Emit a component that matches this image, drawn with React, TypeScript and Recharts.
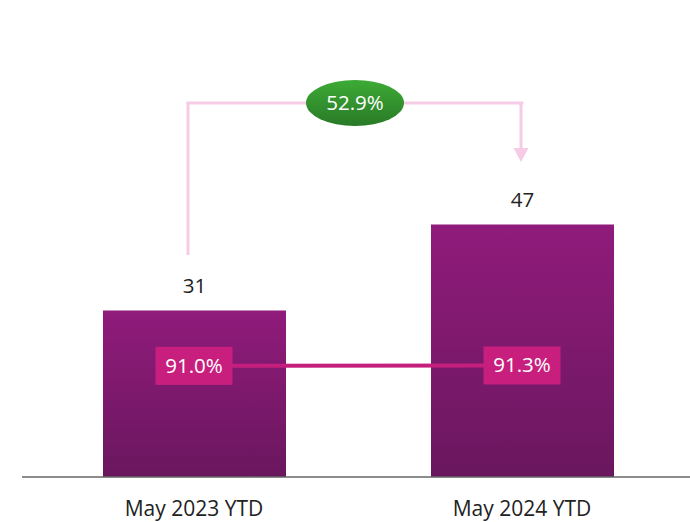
import React from "react"
import { Bar, ComposedChart, LabelList, Line, ReferenceLine, XAxis, YAxis } from "recharts"

const periods = ["May 2023 YTD", "May 2024 YTD"]
const counts = [31, 47]
const rates = [91.0, 91.3]
const growthLabel = "52.9%"

const data = periods.map((name, i) => ({ name, count: counts[i], rate: rates[i] }))

const FONT = "'Open Sans', sans-serif"
const CONNECTOR = "#f5cbe5"
const SHIFT = -6 // the connector starts a little left of the first bar's centre

const RateBadge = (props: any) => {
  const { x, y, value } = props
  const w = 77
  const h = 38
  return (
    <g>
      <rect x={x - w / 2} y={y - h / 2} width={w} height={h} fill="#c81f7e" />
      <text x={x} y={y} dy={7} textAnchor="middle" fill="#fff" fontSize={20.5} fontFamily={FONT}>
        {`${Number(value).toFixed(1)}%`}
      </text>
    </g>
  )
}

const LeftRise = (props: any) => {
  const vb = props.viewBox || {}
  const x = vb.x + SHIFT
  return <line x1={x} y1={vb.y} x2={x} y2={vb.y + (vb.height || 0)} stroke={CONNECTOR} strokeWidth={3} />
}

const GrowthBubble = (props: any) => {
  const vb = props.viewBox || {}
  const x0 = vb.x + SHIFT - 1.5
  const x1 = vb.x + (vb.width || 0) + 1.5
  const cx = (x0 + x1) / 2
  const cy = vb.y + (vb.height || 0) / 2
  return (
    <g>
      <line x1={x0} y1={cy} x2={x1} y2={cy} stroke={CONNECTOR} strokeWidth={3} />
      <ellipse cx={cx} cy={cy} rx={49} ry={23} fill="url(#greenFill)" />
      <text x={cx} y={cy} dy={7} textAnchor="middle" fill="#fff" fontSize={20.5} fontFamily={FONT}>
        {growthLabel}
      </text>
    </g>
  )
}

const ArrowHead = (props: any) => {
  const vb = props.viewBox || {}
  const tipX = vb.x - 1
  const tipY = vb.y + (vb.height || 0)
  return (
    <g>
      <line x1={tipX} y1={vb.y} x2={tipX} y2={tipY - 12} stroke={CONNECTOR} strokeWidth={3} />
      <path d={`M${tipX - 7.5},${tipY - 14} L${tipX + 7.5},${tipY - 14} L${tipX},${tipY} Z`} fill={CONNECTOR} />
    </g>
  )
}

export default function App() {
  return (
    <div style={{ position: "absolute", left: 0, top: 0, fontFamily: FONT }}>
      <ComposedChart width={690} height={522} data={data} margin={{ top: 47, right: 0, left: 22, bottom: 0 }}>
        <defs>
          <linearGradient id="barFill" x1="0" y1="0" x2="0" y2="1">
            <stop offset="0%" stopColor="#901b7b" />
            <stop offset="100%" stopColor="#6a175e" />
          </linearGradient>
          <linearGradient id="greenFill" x1="0" y1="0" x2="0" y2="1">
            <stop offset="0%" stopColor="#3dab36" />
            <stop offset="100%" stopColor="#297a27" />
          </linearGradient>
        </defs>
        <XAxis
          dataKey="name"
          padding={{ left: 8, right: 4 }}
          axisLine={{ stroke: "#666", strokeWidth: 1.5 }}
          tickLine={false}
          tick={{ fill: "#222", fontSize: 21 }}
          tickMargin={18}
          height={45}
        />
        <YAxis yAxisId="left" domain={[0, 80]} hide />
        <YAxis yAxisId="right" orientation="right" domain={[0, 352]} hide />
        <Bar yAxisId="left" dataKey="count" barSize={183} fill="url(#barFill)" isAnimationActive={false}>
          <LabelList dataKey="count" position="top" offset={17} fill="#222" fontSize={20.5} />
        </Bar>
        <Line
          yAxisId="right"
          dataKey="rate"
          stroke="#c41f7c"
          strokeWidth={4}
          dot={false}
          isAnimationActive={false}
        >
          <LabelList dataKey="rate" content={RateBadge} />
        </Line>
        <ReferenceLine
          yAxisId="left"
          segment={[{ x: periods[0], y: 41.3 }, { x: periods[0], y: 69.6 }]}
          stroke="none"
          ifOverflow="visible"
          label={<LeftRise />}
        />
        <ReferenceLine
          yAxisId="left"
          segment={[{ x: periods[0], y: 69.6 }, { x: periods[1], y: 69.6 }]}
          stroke="none"
          ifOverflow="visible"
          label={<GrowthBubble />}
        />
        <ReferenceLine
          yAxisId="left"
          segment={[{ x: periods[1], y: 69.6 }, { x: periods[1], y: 58.6 }]}
          stroke="none"
          ifOverflow="visible"
          label={<ArrowHead />}
        />
      </ComposedChart>
    </div>
  )
}
